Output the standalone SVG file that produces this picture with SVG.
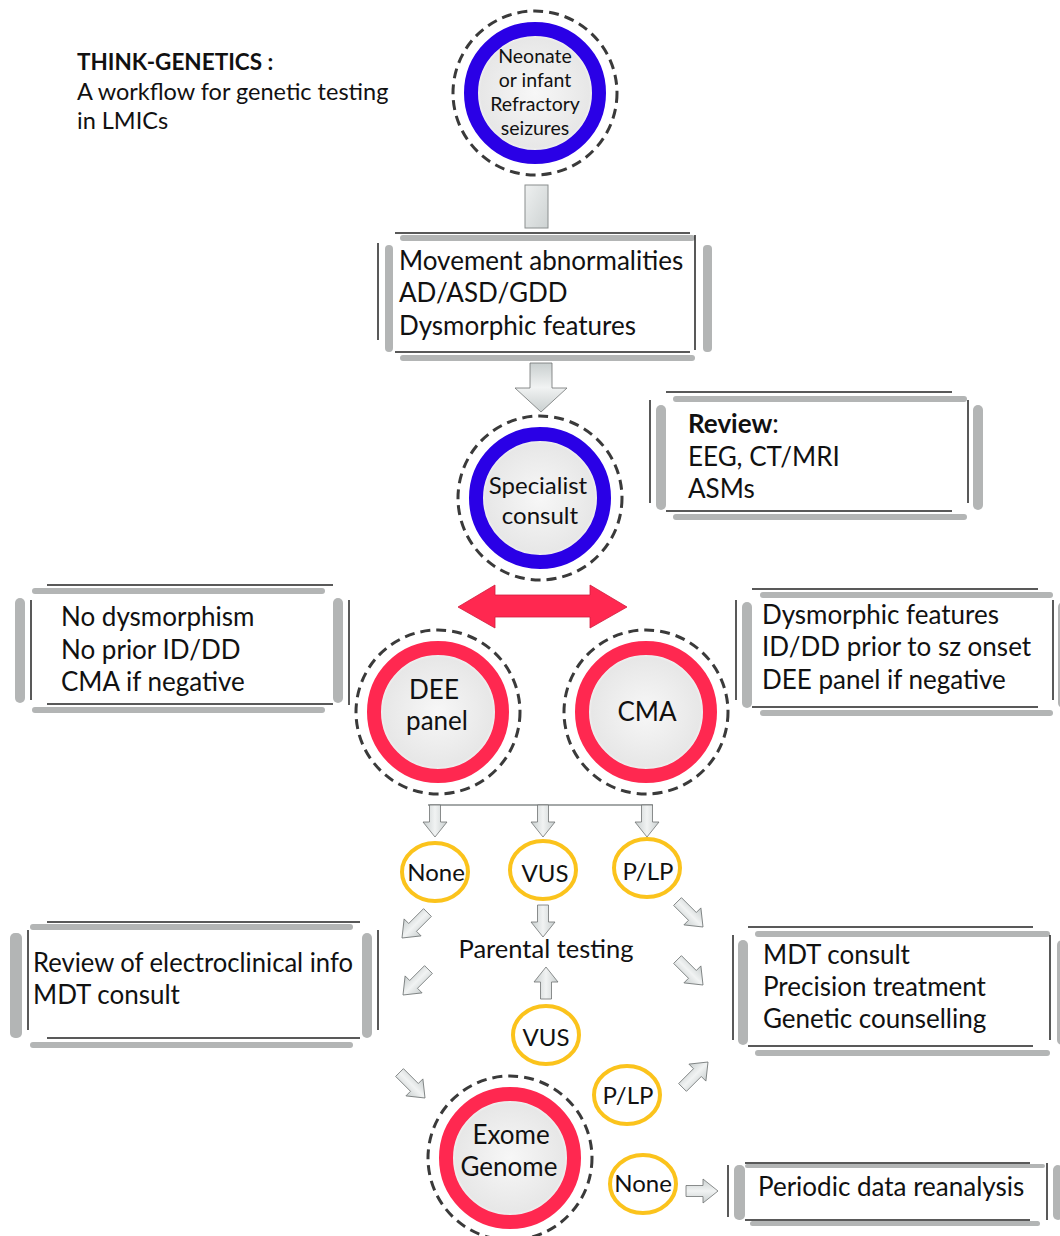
<svg xmlns="http://www.w3.org/2000/svg" xmlns:xlink="http://www.w3.org/1999/xlink" width="1060" height="1236" viewBox="0 0 1060 1236">
<defs>
<radialGradient id="inner" cx="50%" cy="50%" r="50%">
<stop offset="0" stop-color="#f7f7f7"/>
<stop offset="0.85" stop-color="#e7e7e7"/>
<stop offset="0.93" stop-color="#f9f9f9"/>
<stop offset="1" stop-color="#e2e2e2"/>
</radialGradient>
<linearGradient id="arrg" x1="0" y1="0" x2="0" y2="1">
<stop offset="0" stop-color="#c9cfcf"/>
<stop offset="0.5" stop-color="#f1f3f3"/>
<stop offset="1" stop-color="#c9cfcf"/>
</linearGradient>
<linearGradient id="stemg" x1="0" y1="0" x2="1" y2="1">
<stop offset="0" stop-color="#eef0f0"/>
<stop offset="1" stop-color="#cdd2d2"/>
</linearGradient>
<path id="arr" d="M0,0 L-15,-12 L-15,-5.5 L-32,-5.5 L-32,5.5 L-15,5.5 L-15,12 Z"/>
<path id="arrL" d="M0,0 L-15,-12 L-15,-5.5 L-36,-5.5 L-36,5.5 L-15,5.5 L-15,12 Z"/>
</defs>
<style>
text{font-family:Lato,"Liberation Sans",sans-serif;fill:#111}
.bt{font-size:26px}
.ct{font-size:26px;text-anchor:middle}
.yt{font-size:24px;text-anchor:middle}
.thin{stroke:#222;stroke-width:1.5;fill:none}
.bar{fill:#b3b5b5}
.dash{fill:none;stroke:#3a3a3a;stroke-width:3;stroke-dasharray:10 6}
.blue{fill:url(#inner);stroke:#2a00e6;stroke-width:14}
.red{fill:url(#inner);stroke:#ff2850;stroke-width:14}
.yel{fill:#fff;stroke:#fbc31c;stroke-width:4}
.ga{fill:url(#arrg);stroke:#6e7272;stroke-width:0.8}
</style>
<rect width="1060" height="1236" fill="#fff"/>

<g id="title">
<text x="77" y="70" style="font-size:22.5px;font-weight:bold">THINK-GENETICS :</text>
<text x="77" y="100" style="font-size:23.5px">A workflow for genetic testing</text>
<text x="77" y="129" style="font-size:23.5px">in LMICs</text>
</g>

<g id="connectors">
<rect x="525" y="185" width="23" height="43" fill="url(#stemg)" stroke="#8a8e8e" stroke-width="1"/>
<path d="M541,412 L515,388 L530,388 L530,363 L552,363 L552,388 L567,388 Z" class="ga"/>
<path d="M458,607 L495,585 L495,595 L590,595 L590,585 L627,607 L590,628 L590,617 L495,617 L495,628 Z" fill="#ff2850" stroke="#d01c3c" stroke-width="0.8"/>
<line x1="428" y1="805" x2="653" y2="805" stroke="#a4a8a8" stroke-width="2"/>
<use href="#arr" class="ga" transform="translate(435,837) rotate(90)"/>
<use href="#arr" class="ga" transform="translate(543,837) rotate(90)"/>
<use href="#arr" class="ga" transform="translate(647,837) rotate(90)"/>
<use href="#arrL" class="ga" transform="translate(402,938) rotate(135)"/>
<use href="#arrL" class="ga" transform="translate(403,995) rotate(135)"/>
<use href="#arr" class="ga" transform="translate(543,937) rotate(90)"/>
<use href="#arr" class="ga" transform="translate(546,967) rotate(-90)"/>
<use href="#arrL" class="ga" transform="translate(703,927) rotate(45)"/>
<use href="#arrL" class="ga" transform="translate(703,985) rotate(45)"/>
<use href="#arrL" class="ga" transform="translate(425,1098) rotate(45)"/>
<use href="#arrL" class="ga" transform="translate(708,1062) rotate(-45)"/>
<use href="#arr" class="ga" transform="translate(718,1191)"/>
</g>

<g id="node-neonate">
<circle cx="535" cy="93" r="82" class="dash"/>
<circle cx="535" cy="93" r="64" class="blue"/>
<text x="535" y="63" style="font-size:19.5px;text-anchor:middle">Neonate</text>
<text x="535" y="87" style="font-size:19.5px;text-anchor:middle">or infant</text>
<text x="535" y="111" style="font-size:19.5px;text-anchor:middle">Refractory</text>
<text x="535" y="135" style="font-size:19.5px;text-anchor:middle">seizures</text>
</g>

<g id="box-movement">
<line x1="395" y1="233" x2="690" y2="233" class="thin"/>
<rect x="400" y="235" width="295" height="6" rx="3" class="bar"/>
<line x1="378" y1="243" x2="378" y2="340" class="thin"/>
<rect x="385" y="245" width="8" height="107" rx="4" class="bar"/>
<line x1="695" y1="235" x2="695" y2="350" class="thin"/>
<rect x="703" y="245" width="9" height="107" rx="4" class="bar"/>
<line x1="395" y1="352" x2="690" y2="352" class="thin"/>
<rect x="400" y="355" width="295" height="6" rx="3" class="bar"/>
<text x="399" y="270" class="bt">Movement abnormalities</text>
<text x="399" y="302" class="bt">AD/ASD/GDD</text>
<text x="399" y="335" class="bt">Dysmorphic features</text>
</g>

<g id="node-specialist">
<circle cx="540" cy="498" r="82" class="dash"/>
<circle cx="540" cy="498" r="64" class="blue"/>
<text x="538" y="494" style="font-size:24px;text-anchor:middle">Specialist</text>
<text x="540" y="524" style="font-size:24px;text-anchor:middle">consult</text>
</g>

<g id="box-review">
<line x1="666" y1="392" x2="952" y2="392" class="thin"/>
<rect x="673" y="396" width="294" height="6" rx="3" class="bar"/>
<line x1="650" y1="400" x2="650" y2="503" class="thin"/>
<rect x="656" y="405" width="10" height="105" rx="5" class="bar"/>
<line x1="968" y1="400" x2="968" y2="503" class="thin"/>
<rect x="973" y="405" width="10" height="105" rx="5" class="bar"/>
<line x1="666" y1="511" x2="952" y2="511" class="thin"/>
<rect x="673" y="514" width="294" height="6" rx="3" class="bar"/>
<text x="688" y="433" class="bt"><tspan font-weight="bold">Review</tspan>:</text>
<text x="688" y="466" class="bt">EEG, CT/MRI</text>
<text x="688" y="498" class="bt">ASMs</text>
</g>

<g id="box-nodysmorphism">
<line x1="47" y1="585" x2="333" y2="585" class="thin"/>
<rect x="32" y="588" width="293" height="6" rx="3" class="bar"/>
<rect x="15" y="598" width="10" height="105" rx="5" class="bar"/>
<line x1="31" y1="600" x2="31" y2="700" class="thin"/>
<rect x="333" y="598" width="10" height="105" rx="5" class="bar"/>
<line x1="349" y1="600" x2="349" y2="705" class="thin"/>
<line x1="47" y1="704" x2="333" y2="704" class="thin"/>
<rect x="32" y="707" width="293" height="6" rx="3" class="bar"/>
<text x="61" y="626" class="bt">No dysmorphism</text>
<text x="61" y="659" class="bt">No prior ID/DD</text>
<text x="61" y="691" class="bt">CMA if negative</text>
</g>

<g id="box-dysmorphic">
<line x1="752" y1="589" x2="1038" y2="589" class="thin"/>
<rect x="760" y="592" width="293" height="6" rx="3" class="bar"/>
<line x1="736" y1="600" x2="736" y2="700" class="thin"/>
<rect x="742" y="602" width="10" height="106" rx="5" class="bar"/>
<line x1="1053" y1="600" x2="1053" y2="700" class="thin"/>
<rect x="1058" y="602" width="10" height="106" rx="5" class="bar"/>
<line x1="752" y1="707" x2="1038" y2="707" class="thin"/>
<rect x="760" y="710" width="293" height="6" rx="3" class="bar"/>
<text x="762" y="624" class="bt">Dysmorphic features</text>
<text x="762" y="656" class="bt">ID/DD prior to sz onset</text>
<text x="762" y="689" class="bt">DEE panel if negative</text>
</g>

<g id="node-dee">
<circle cx="438" cy="712" r="82" class="dash"/>
<circle cx="438" cy="712" r="64" class="red"/>
<text x="434" y="699" class="ct">DEE</text>
<text x="437" y="730" class="ct">panel</text>
</g>

<g id="node-cma">
<circle cx="646" cy="712" r="82" class="dash"/>
<circle cx="646" cy="712" r="64" class="red"/>
<text x="647" y="721" class="ct">CMA</text>
</g>

<g id="node-none1">
<ellipse cx="435" cy="872" rx="33" ry="29" class="yel"/>
<text x="436" y="881" class="yt">None</text>
</g>
<g id="node-vus1">
<ellipse cx="543" cy="870" rx="33" ry="29" class="yel"/>
<text x="545" y="882" class="yt">VUS</text>
</g>
<g id="node-plp1">
<ellipse cx="647" cy="868" rx="33" ry="29" class="yel"/>
<text x="648" y="880" class="yt">P/LP</text>
</g>

<g id="node-parental">
<text x="546" y="958" style="font-size:25.5px;text-anchor:middle">Parental testing</text>
</g>

<g id="box-electroclinical">
<line x1="47" y1="922" x2="360" y2="922" class="thin"/>
<rect x="30" y="924" width="323" height="6" rx="3" class="bar"/>
<rect x="10" y="933" width="12" height="105" rx="5" class="bar"/>
<line x1="28" y1="930" x2="28" y2="1030" class="thin"/>
<rect x="362" y="933" width="10" height="105" rx="5" class="bar"/>
<line x1="378" y1="930" x2="378" y2="1030" class="thin"/>
<line x1="47" y1="1038" x2="360" y2="1038" class="thin"/>
<rect x="30" y="1042" width="323" height="6" rx="3" class="bar"/>
<text x="33" y="972" class="bt" textLength="320" lengthAdjust="spacingAndGlyphs">Review of electroclinical info</text>
<text x="33" y="1004" class="bt">MDT consult</text>
</g>

<g id="box-mdt">
<line x1="748" y1="927" x2="1033" y2="927" class="thin"/>
<rect x="755" y="931" width="295" height="6" rx="3" class="bar"/>
<line x1="733" y1="935" x2="733" y2="1040" class="thin"/>
<rect x="738" y="940" width="10" height="105" rx="5" class="bar"/>
<line x1="1050" y1="935" x2="1050" y2="1040" class="thin"/>
<rect x="1057" y="940" width="10" height="105" rx="5" class="bar"/>
<line x1="748" y1="1046" x2="1033" y2="1046" class="thin"/>
<rect x="755" y="1050" width="295" height="6" rx="3" class="bar"/>
<text x="763" y="964" class="bt">MDT consult</text>
<text x="763" y="996" class="bt">Precision treatment</text>
<text x="763" y="1028" class="bt">Genetic counselling</text>
</g>

<g id="node-vus2">
<ellipse cx="546" cy="1035" rx="33" ry="29" class="yel"/>
<text x="546" y="1046" class="yt">VUS</text>
</g>

<g id="node-plp2">
<ellipse cx="627" cy="1095" rx="33" ry="29" class="yel"/>
<text x="628" y="1104" class="yt">P/LP</text>
</g>

<g id="node-exome">
<circle cx="510" cy="1158" r="82" class="dash"/>
<circle cx="510" cy="1158" r="64" class="red"/>
<text x="511" y="1144" class="ct">Exome</text>
<text x="509" y="1176" class="ct">Genome</text>
</g>

<g id="node-none2">
<ellipse cx="643" cy="1184" rx="33" ry="29" class="yel"/>
<text x="643" y="1192" class="yt">None</text>
</g>

<g id="box-periodic">
<line x1="745" y1="1163" x2="1030" y2="1163" class="thin"/>
<rect x="745" y="1164" width="300" height="4" rx="2" class="bar"/>
<line x1="728" y1="1165" x2="728" y2="1217" class="thin"/>
<rect x="734" y="1165" width="11" height="55" rx="5" class="bar"/>
<line x1="1047" y1="1163" x2="1047" y2="1220" class="thin"/>
<rect x="1053" y="1165" width="10" height="55" rx="5" class="bar"/>
<line x1="745" y1="1220" x2="1030" y2="1220" class="thin"/>
<rect x="750" y="1221" width="290" height="5" rx="2.5" class="bar"/>
<text x="758" y="1196" class="bt">Periodic data reanalysis</text>
</g>
</svg>
